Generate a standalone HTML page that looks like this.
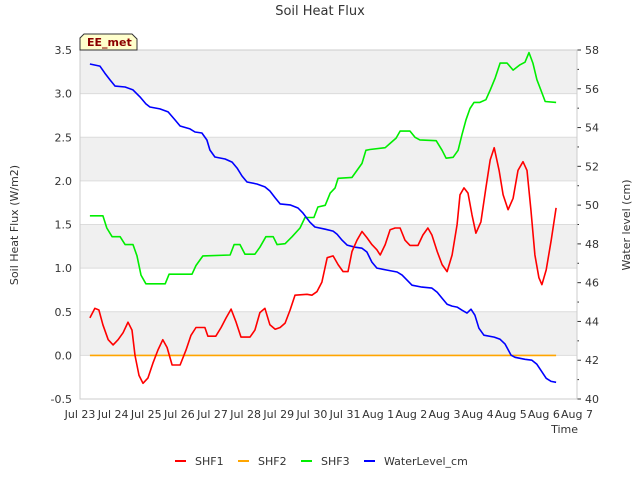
<!DOCTYPE html>
<html><head><meta charset="utf-8"><style>
body{margin:0;background:#fff;width:640px;height:480px;overflow:hidden}
text{font-family:"DejaVu Sans","Liberation Sans",sans-serif}
</style></head><body>
<svg id="c" width="640" height="480" xmlns="http://www.w3.org/2000/svg"></svg>
<script>
const dayLabels=["Jul 23","Jul 24","Jul 25","Jul 26","Jul 27","Jul 28","Jul 29","Jul 30","Jul 31","Aug 1","Aug 2","Aug 3","Aug 4","Aug 5","Aug 6","Aug 7"];
const leftTicks=[-0.5,0,0.5,1,1.5,2,2.5,3,3.5];
const rightTicks=[40,42,44,46,48,50,52,54,56,58];
const shf1T=[0.30,0.45,0.57,0.69,0.85,1.0,1.15,1.3,1.45,1.57,1.66,1.78,1.9,2.05,2.2,2.35,2.5,2.63,2.78,3.02,3.2,3.35,3.5,3.77,3.86,4.1,4.26,4.41,4.56,4.71,4.86,5.13,5.28,5.43,5.58,5.73,5.89,6.04,6.19,6.34,6.49,6.85,7.0,7.15,7.3,7.46,7.64,7.79,7.94,8.09,8.21,8.36,8.51,8.66,8.81,8.96,9.06,9.21,9.36,9.51,9.66,9.81,9.96,10.2,10.35,10.5,10.62,10.78,10.93,11.08,11.23,11.38,11.47,11.59,11.71,11.83,11.95,12.1,12.25,12.38,12.5,12.65,12.77,12.92,13.07,13.22,13.37,13.49,13.61,13.73,13.85,13.94,14.07,14.22,14.37];
const shf1V=[0.43,0.54,0.52,0.35,0.18,0.12,0.18,0.26,0.38,0.29,0,-0.23,-0.32,-0.26,-0.09,0.06,0.18,0.09,-0.11,-0.11,0.06,0.23,0.32,0.32,0.22,0.22,0.32,0.43,0.53,0.38,0.21,0.21,0.29,0.49,0.54,0.35,0.3,0.32,0.37,0.52,0.69,0.7,0.69,0.73,0.84,1.12,1.14,1.04,0.96,0.96,1.19,1.32,1.42,1.35,1.27,1.21,1.15,1.27,1.44,1.46,1.46,1.32,1.26,1.26,1.38,1.46,1.38,1.19,1.04,0.96,1.15,1.5,1.84,1.92,1.86,1.61,1.4,1.53,1.92,2.24,2.38,2.12,1.84,1.67,1.8,2.12,2.22,2.12,1.67,1.15,0.89,0.81,0.98,1.32,1.69];
const shf2T=[0.3,14.37];
const shf2V=[0,0];
const shf3T=[0.3,0.69,0.81,0.97,1.21,1.36,1.6,1.72,1.84,1.99,2.57,2.69,3.38,3.5,3.71,4.53,4.65,4.83,4.98,5.28,5.43,5.61,5.83,5.95,6.19,6.4,6.64,6.79,7.06,7.18,7.4,7.55,7.7,7.79,8.21,8.36,8.51,8.63,8.75,9.21,9.36,9.54,9.66,9.96,10.11,10.26,10.75,10.93,11.05,11.26,11.41,11.53,11.65,11.77,11.89,12.07,12.25,12.38,12.53,12.68,12.89,13.07,13.28,13.43,13.55,13.67,13.79,13.91,14.04,14.37];
const shf3V=[1.6,1.6,1.46,1.36,1.36,1.27,1.27,1.14,0.92,0.82,0.82,0.93,0.93,1.03,1.14,1.15,1.27,1.27,1.16,1.16,1.24,1.36,1.36,1.27,1.28,1.36,1.46,1.58,1.58,1.7,1.72,1.86,1.92,2.03,2.04,2.12,2.2,2.35,2.36,2.38,2.43,2.49,2.57,2.57,2.5,2.47,2.46,2.35,2.26,2.27,2.35,2.53,2.7,2.83,2.9,2.9,2.93,3.04,3.18,3.35,3.35,3.27,3.33,3.36,3.47,3.35,3.16,3.04,2.91,2.9];
const wlT=[0.3,0.6,0.75,0.91,1.06,1.36,1.6,1.81,1.99,2.11,2.41,2.66,2.87,3.02,3.32,3.47,3.68,3.83,3.92,4.07,4.38,4.59,4.74,4.89,5.04,5.34,5.58,5.73,5.89,6.04,6.34,6.58,6.73,6.94,7.09,7.4,7.64,7.76,7.91,8.06,8.3,8.51,8.66,8.81,8.96,9.27,9.57,9.72,9.87,10.02,10.32,10.62,10.78,10.93,11.08,11.23,11.38,11.53,11.68,11.8,11.92,12.04,12.19,12.5,12.68,12.83,13.01,13.13,13.43,13.64,13.79,13.91,14.07,14.22,14.37];
const wlV=[57.28,57.17,56.81,56.45,56.14,56.09,55.94,55.58,55.22,55.06,54.96,54.81,54.39,54.08,53.93,53.77,53.72,53.36,52.84,52.48,52.38,52.22,51.91,51.5,51.19,51.09,50.94,50.73,50.37,50.06,50.01,49.85,49.59,49.12,48.87,48.76,48.66,48.5,48.19,47.94,47.83,47.78,47.58,47.06,46.75,46.65,46.55,46.39,46.13,45.87,45.77,45.72,45.51,45.2,44.89,44.79,44.74,44.58,44.43,44.63,44.32,43.65,43.29,43.19,43.08,42.83,42.26,42.15,42.05,42.0,41.79,41.48,41.07,40.91,40.86];

const L=80,R=577,T=50,B=399;
const xS=t=>L+t*(R-L)/15;
const yL=v=>B-(v+0.5)*(B-T)/4;
const yR=w=>B-(w-40)*(B-T)/18;
const svg=document.getElementById('c');
const NS="http://www.w3.org/2000/svg";
function mk(tag,attrs,parent){const e=document.createElementNS(NS,tag);for(const k in attrs)e.setAttribute(k,attrs[k]);(parent||svg).appendChild(e);return e;}
function txt(s,attrs){const e=mk('text',attrs);e.textContent=s;return e;}

let e=txt("Soil Heat Flux",{x:320,y:15,'text-anchor':'middle','font-size':13,fill:'#333'});



// background bands
for(let i=0;i<8;i++){
  const v0=-0.5+i*0.5;
  if(i%2===1){
    e=mk('rect',{x:L,y:yL(v0+0.5),width:R-L,height:yL(v0)-yL(v0+0.5),fill:'#f0f0f0'});
    
    
  }
}
leftTicks.forEach(v=>{
  e=mk('line',{x1:L,x2:R,y1:yL(v),y2:yL(v),stroke:'#dcdcdc','stroke-width':1});
  
  
  e=txt(v.toFixed(1),{x:L-8,y:yL(v)+4,'text-anchor':'end','font-size':11,fill:'#333'});
  
  
});
rightTicks.forEach(w=>{
  e=mk('line',{x1:R,x2:R+4,y1:yR(w),y2:yR(w),stroke:'#333'});
  
  
  e=txt(String(w),{x:R+8,y:yR(w)+4,'font-size':11,fill:'#333'});
  
  
});
for(let w=41;w<58;w+=2){
  e=mk('line',{x1:R,x2:R+2,y1:yR(w),y2:yR(w),stroke:'#333'});
  
  
}
dayLabels.forEach((s,i)=>{
  e=txt(s,{x:xS(i),y:B+19,'text-anchor':'middle','font-size':11,fill:'#333'});
  
  
});
e=mk('rect',{x:L,y:T,width:R-L,height:B-T,fill:'none',stroke:'#ccc'});



e=txt("Time",{x:578,y:433,'text-anchor':'end','font-size':11,fill:'#333'});


e=txt("Soil Heat Flux (W/m2)",{x:0,y:0,transform:'translate(18,225) rotate(-90)','text-anchor':'middle','font-size':11,fill:'#333'});


e=txt("Water level (cm)",{x:0,y:0,transform:'translate(630,225) rotate(-90)','text-anchor':'middle','font-size':11,fill:'#333'});



function series(ts,vs,yf,color,name){
  const d=ts.map((t,i)=>(i?'L':'M')+xS(t).toFixed(1)+','+yf(vs[i]).toFixed(1)).join('');
  const p=mk('path',{d:d,fill:'none',stroke:color,'stroke-width':1.6,'stroke-linejoin':'round'});
  
  
}
series(shf2T,shf2V,yL,'#ffa500','shf2-line');
series(shf3T,shf3V,yL,'#00ee00','shf3-line');
series(wlT,wlV,yR,'#0000ff','water-level-line');
series(shf1T,shf1V,yL,'#ff0000','shf1-line');

// badge
const g=mk('g',{});


mk('path',{d:'M84,34 L132,34 L137,39 L137,50 L80,50 L80,38 Z',fill:'#ffffcc',stroke:'#333','stroke-width':1},g);
const bt=mk('text',{x:87,y:46,'font-size':11,'font-weight':'bold',fill:'#8b0000'},g);
bt.textContent='EE_met';

const leg=[["SHF1","#ff0000",175],["SHF2","#ffa500",238],["SHF3","#00ee00",301],["WaterLevel_cm","#0000ff",364]];
leg.forEach(([s,c,x])=>{
  e=mk('line',{x1:x,x2:x+11,y1:461,y2:461,stroke:c,'stroke-width':2});
  
  
  e=txt(s,{x:x+20,y:465,'font-size':11,fill:'#333'});
  
  
});
</script>
</body></html>
